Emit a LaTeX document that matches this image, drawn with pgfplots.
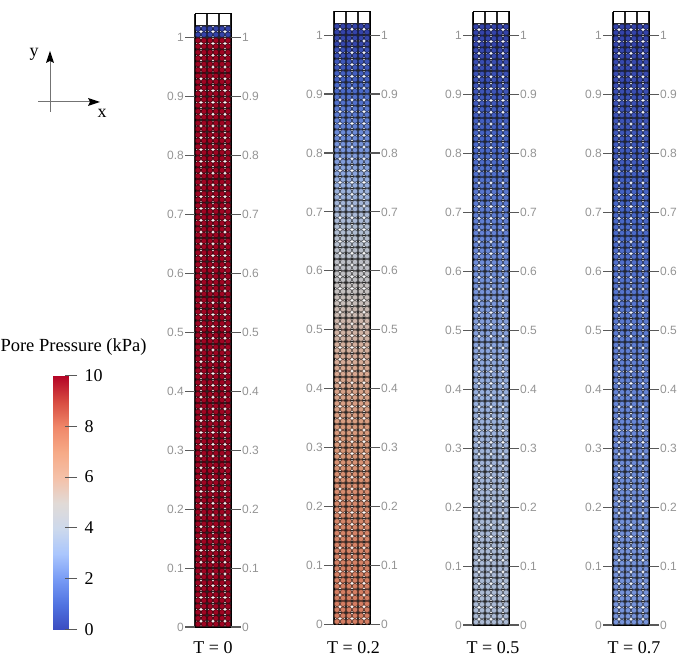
\documentclass[border=0pt]{standalone}
\usepackage{pgfplots}
\usepackage{pgfplotstable}
\usepackage{fontspec}
\pgfplotsset{compat=1.18}
\setmainfont{Liberation Serif}
\newfontfamily\ticksans{Liberation Sans}
\pgfplotstableread{
y T0 Ta Tb Tc
0.01 10 7.80 3.70 2.30
0.03 10 7.79 3.70 2.30
0.05 10 7.78 3.69 2.29
0.07 10 7.75 3.68 2.29
0.09 10 7.72 3.66 2.28
0.11 10 7.68 3.64 2.27
0.13 10 7.64 3.62 2.25
0.15 10 7.58 3.60 2.24
0.17 10 7.52 3.57 2.22
0.19 10 7.46 3.54 2.20
0.21 10 7.38 3.50 2.18
0.23 10 7.30 3.46 2.15
0.25 10 7.21 3.42 2.12
0.27 10 7.11 3.37 2.10
0.29 10 7.00 3.32 2.07
0.31 10 6.89 3.27 2.03
0.33 10 6.78 3.21 2.00
0.35 10 6.65 3.15 1.96
0.37 10 6.52 3.09 1.92
0.39 10 6.38 3.03 1.88
0.41 10 6.24 2.96 1.84
0.43 10 6.09 2.89 1.79
0.45 10 5.93 2.81 1.75
0.47 10 5.77 2.74 1.70
0.49 10 5.60 2.66 1.65
0.51 10 5.43 2.57 1.60
0.53 10 5.25 2.49 1.55
0.55 10 5.07 2.40 1.49
0.57 10 4.88 2.31 1.44
0.59 10 4.68 2.22 1.38
0.61 10 4.49 2.13 1.32
0.63 10 4.28 2.03 1.26
0.65 10 4.08 1.93 1.20
0.67 10 3.86 1.83 1.14
0.69 10 3.65 1.73 1.08
0.71 10 3.43 1.63 1.01
0.73 10 3.21 1.52 0.95
0.75 10 2.99 1.42 0.88
0.77 10 2.76 1.31 0.81
0.79 10 2.53 1.20 0.74
0.81 10 2.29 1.09 0.68
0.83 10 2.06 0.98 0.61
0.85 10 1.82 0.86 0.54
0.87 10 1.58 0.75 0.47
0.89 10 1.34 0.64 0.40
0.91 10 1.10 0.52 0.32
0.93 10 0.86 0.41 0.25
0.95 10 0.61 0.29 0.18
0.97 10 0.37 0.17 0.11
0.99 10 0.12 0.06 0.04
1.01 0 0 0 0
}\meshdata
\pgfplotsset{
  colormap={cw}{
    rgb255=(59,76,192) rgb255=(80,115,225) rgb255=(120,155,245) rgb255=(170,198,253)
    rgb255=(205,217,236) rgb255=(225,218,214) rgb255=(245,193,168) rgb255=(246,170,135)
    rgb255=(240,135,105) rgb255=(215,75,65) rgb255=(180,4,38)},
  colormap name=cw,
  panel/.style={
    scale only axis, anchor=south west,
    width=36pt, height=613pt,
    xmin=0, xmax=0.06, ymin=0, ymax=1.04,
    xtick={0,0.02,0.04,0.06}, xticklabel=\empty, scaled x ticks=false,
    ytick={0,0.1,0.2,0.3,0.4,0.5,0.6,0.7,0.8,0.9,1},
    minor ytick={0.02,0.04,0.06,0.08,0.12,0.14,0.16,0.18,0.22,0.24,0.26,0.28,0.32,0.34,0.36,0.38,0.42,0.44,0.46,0.48,0.52,0.54,0.56,0.58,0.62,0.64,0.66,0.68,0.72,0.74,0.76,0.78,0.82,0.84,0.86,0.88,0.92,0.94,0.96,0.98,1.02},
    tick align=outside, xtick style={draw=none},
    ytick style={draw=black!65, line width=1.1pt},
    major tick length=10pt, minor tick length=0pt,
    yticklabel style={font=\ticksans\fontsize{12}{12}\selectfont, text=black!42, inner sep=1pt},
    /pgf/number format/assume math mode=true,
    axis line style={draw=black, line width=1pt},
  },
  gaussmark/.style={only marks, scatter, mark=*, mark size=2.8pt, point meta=explicit,
    scatter/use mapped color={draw=mapped color!40!black, fill=mapped color!88!black, line width=0.7pt}, forget plot},
}
\newcommand{\panel}[3]{% left px, bottom offset from page bottom, column
  \begin{axis}[panel, at={(#1pt,#2pt)}, point meta min=0, point meta max=10,
      axis on top, grid=both, major grid style={draw=black!85, line width=1.2pt},
      minor grid style={draw=black!85, line width=1.2pt},
      ytick pos=left]
    \pgfplotsinvokeforeach{0.005,0.015,0.025,0.035,0.045,0.055}{
      \addplot[gaussmark] table[x expr=##1, y expr=\thisrow{y}-0.005, meta=#3]{\meshdata};
      \addplot[gaussmark] table[x expr=##1, y expr=\thisrow{y}+0.005, meta=#3]{\meshdata};
    }
  \end{axis}
  \begin{axis}[panel, at={(#1pt,#2pt)}, axis line style={draw=none}, ytick pos=right, yticklabel pos=right, xtick=\empty]
  \end{axis}
}
\begin{document}
\begin{tikzpicture}[x=1pt,y=1pt]
  \path[use as bounding box] (0,0) rectangle (677,656);
  \panel{195}{29}{T0}
  \panel{334}{31.5}{Ta}
  \panel{473}{31}{Tb}
  \panel{613}{31}{Tc}
  % colour bar
  \begin{axis}[scale only axis, anchor=south west, at={(53pt,26.5pt)}, width=12pt, height=254pt,
      xmin=0, xmax=1, ymin=0, ymax=10, clip=false, axis on top,
      xtick=\empty, ytick={0,2,4,6,8,10}, ytick pos=right, yticklabel pos=right,
      tick align=outside, major tick length=12pt,
      ytick style={draw=black!65, line width=1.1pt},
      axis line style={draw=none},
      yticklabel style={font=\fontsize{18}{18}\selectfont, text=black, xshift=4pt},
      /pgf/number format/assume math mode=true,
      point meta min=0, point meta max=10]
    \addplot[surf, shader=interp, point meta=y] coordinates {
      (0,0) (1.333,0)

      (0,10) (1.333,10)
    };
  \end{axis}
  % text
  \node[font=\fontsize{18.5}{20}\selectfont, anchor=center] at (73.5,309) {Pore Pressure (kPa)};
  \foreach \cx/\lab in {213/{T = 0},353.5/{T = 0.2},493/{T = 0.5},634/{T = 0.7}}
    \node[font=\fontsize{18}{18}\selectfont, anchor=center, inner sep=0pt] at (\cx,8) {\lab};
  % orientation axes
  \draw[black!55, line width=1pt] (38,554) -- (90,554);
  \draw[black!55, line width=1pt] (50,544) -- (50,596);
  \fill[black] (100,554) -- (88,558) -- (90,554) -- (88,550) -- cycle;
  \fill[black] (50,605) -- (46,593) -- (50,595) -- (54,593) -- cycle;
  \node[font=\fontsize{18}{20}\selectfont] at (34,602) {y};
  \node[font=\fontsize{18}{20}\selectfont] at (102,543) {x};
\end{tikzpicture}
\end{document}
